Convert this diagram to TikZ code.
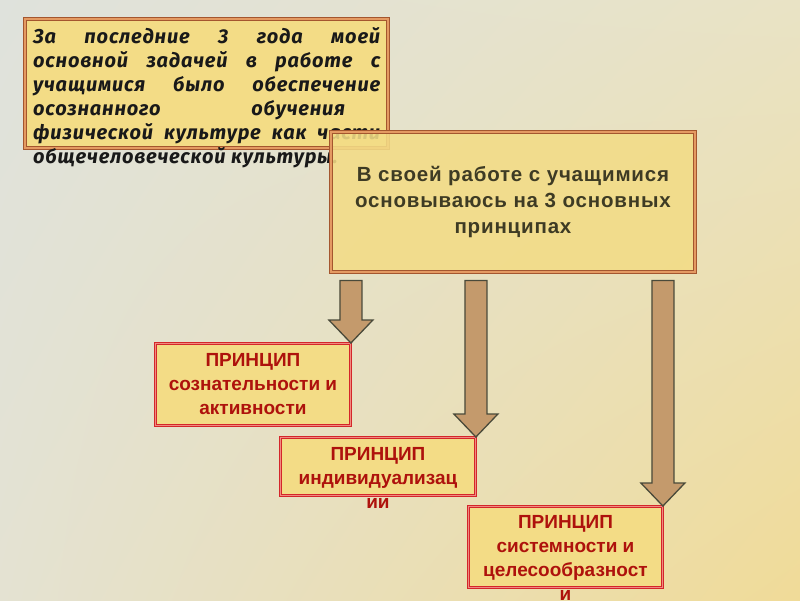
\documentclass[tikz,border=0pt]{standalone}
\usepackage{fontspec}
\setmainfont{Liberation Sans}
\newfontfamily\goalfont[LetterSpace=4]{Fira Sans}
\newfontfamily\statementfont[LetterSpace=4]{Liberation Sans}
\usetikzlibrary{calc,positioning,shadings}
\definecolor{bgul}{HTML}{DFE2DC}
\definecolor{bgur}{HTML}{E9E3C5}
\definecolor{bgll}{HTML}{E4E2D2}
\definecolor{bglr}{HTML}{F0DB98}
\definecolor{boxfill}{HTML}{F3DC86}
\definecolor{frameout}{HTML}{A4562E}
\definecolor{framein}{HTML}{E49A62}
\definecolor{redout}{HTML}{D4262A}
\definecolor{redin}{HTML}{F08A80}
\definecolor{arrowfill}{HTML}{C49A6C}
\definecolor{arrowline}{HTML}{4A4A3A}
\definecolor{maintext}{HTML}{3E3B24}
\definecolor{redtext}{HTML}{AE120C}
\tikzset{
every picture/.style={line join=miter},
goal box/.style={
  draw=frameout, double=framein, double distance=1.8pt, line width=0.9pt,
  fill=boxfill, anchor=north west, inner sep=0pt
},
main box/.style={
  goal box, fill opacity=0.88, text opacity=1, align=center,
  text=maintext, font=\statementfont\fontsize{20.5}{26}\selectfont\bfseries
},
principle box/.style={
  draw=redout, double=redin, double distance=1.8pt, line width=0.9pt,
  fill=boxfill, anchor=north west, inner sep=0pt
},
principle text/.style={
  inner sep=0pt, align=center, text=redtext,
  font=\fontsize{19}{24}\selectfont\bfseries
},
goal text/.style={
  inner sep=0pt, anchor=north west, text width=347pt, align=justify,
  text=black!90, font=\goalfont\fontsize{20}{24}\selectfont\bfseries\itshape
},
fat arrow/.style={draw=arrowline, fill=arrowfill, line width=1.3pt}
}
% block arrow from under #1 down to the tip #2
\newcommand{\fatarrow}[2]{%
  \draw[fat arrow] let \p1=(#1), \p2=(#2) in
    (\x2-11pt,\y1-8pt) -- (\x2+11pt,\y1-8pt) -- (\x2+11pt,\y2+23pt)
    -- (\x2+22pt,\y2+23pt) -- (\x2,\y2) -- (\x2-22pt,\y2+23pt)
    -- (\x2-11pt,\y2+23pt) -- cycle;
}
\begin{document}
\begin{tikzpicture}[x=1pt,y=-1pt]
\useasboundingbox (0,0) rectangle (800,600);
\shade[upper left=bgul, upper right=bgur, lower left=bgll, lower right=bglr]
  (0,0) rectangle (800,600);

% goal of the last years
\node[goal box, minimum width=363pt, minimum height=129pt] (goal) at (24.5,18.5) {};
\node[goal text] (goaltext) at (33,27) {За последние 3 года моей\linebreak
основной задачей в работе с\linebreak
учащимися было обеспечение\linebreak
осознанного \hfill обучения\hspace*{35pt}\linebreak
физической культуре как части\linebreak
общечеловеческой культуры.};

% main statement
\node[main box, minimum width=364pt, minimum height=140pt] (main) at (330.5,131.5)
  {В своей работе с учащимися\\основываюсь на 3 основных\\принципах};

% three principles
\node[principle box, minimum width=195pt, minimum height=82pt] (pa) at (155,343) {};
\node[principle box, minimum width=195pt, minimum height=58pt] (pb) at (280,437) {};
\node[principle box, minimum width=194pt, minimum height=81pt] (pc) at (468,506) {};

\node[principle text, below=10pt of pa.north] (patext) {ПРИНЦИП\\сознательности и\\активности};
\node[principle text, below=10pt of pb.north] (pbtext) {ПРИНЦИП\\индивидуализац\\ии};
\node[principle text, below=9pt of pc.north] (pctext) {ПРИНЦИП\\системности и\\целесообразност\\и};

\fatarrow{main.south}{pa.north east}
\fatarrow{main.south}{pb.north east}
\fatarrow{main.south}{pc.north east}
\end{tikzpicture}
\end{document}
